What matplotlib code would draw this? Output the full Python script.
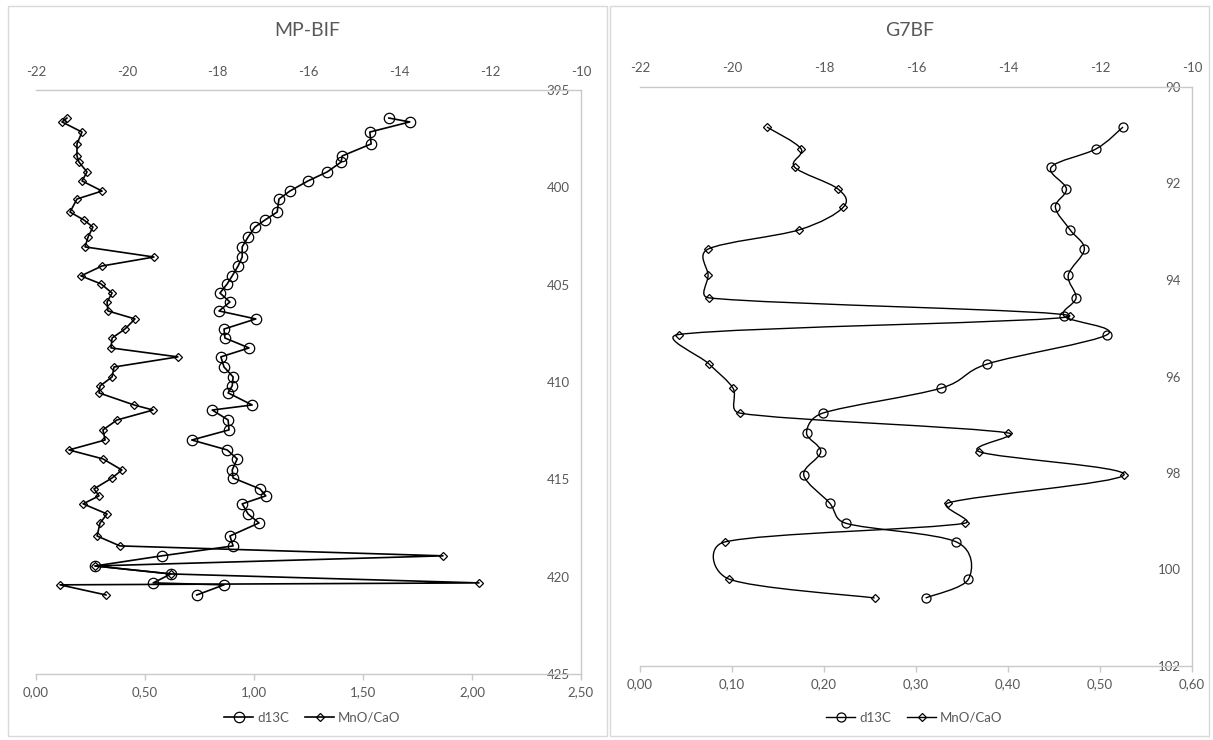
import numpy as np
import matplotlib
matplotlib.use("Agg")
import matplotlib.pyplot as plt
from matplotlib.path import Path
from matplotlib.patches import PathPatch, Rectangle
from matplotlib.lines import Line2D

plt.rcParams['font.family'] = ['Lato', 'DejaVu Sans']

# ---------------- data ----------------
titles = ["MP-BIF", "G7BF"]
series_names = ["d13C", "MnO/CaO"]

mp_depth = [396.44, 396.64, 397.16, 397.77, 398.39, 398.70, 399.21, 399.67, 400.19, 400.60,
            401.27, 401.68, 402.04, 402.55, 403.06, 403.58, 404.04, 404.55, 404.96, 405.43,
            405.89, 406.35, 406.76, 407.28, 407.74, 408.25, 408.71, 409.23, 409.74, 410.20,
            410.56, 411.18, 411.44, 411.95, 412.46, 412.98, 413.49, 413.95, 414.52, 414.93,
            415.49, 415.85, 416.26, 416.78, 417.24, 417.91, 418.42, 418.93, 419.45, 419.86,
            420.32, 420.42, 420.94]
mp_mno = [0.142, 0.119, 0.211, 0.188, 0.188, 0.197, 0.234, 0.211, 0.303, 0.188,
          0.156, 0.220, 0.261, 0.239, 0.225, 0.541, 0.303, 0.206, 0.298, 0.349,
          0.326, 0.330, 0.454, 0.408, 0.349, 0.344, 0.651, 0.358, 0.349, 0.294,
          0.289, 0.450, 0.537, 0.372, 0.307, 0.317, 0.151, 0.307, 0.394, 0.349,
          0.266, 0.289, 0.216, 0.326, 0.294, 0.280, 0.385, 1.867, 0.271, 0.619,
          2.032, 0.110, 0.321]
mp_d13c = [-14.23, -13.77, -14.65, -14.62, -15.26, -15.28, -15.59, -16.01, -16.41, -16.65,
           -16.69, -16.96, -17.18, -17.33, -17.46, -17.46, -17.55, -17.68, -17.79, -17.95,
           -17.73, -17.97, -17.16, -17.86, -17.84, -17.31, -17.93, -17.86, -17.66, -17.68,
           -17.77, -17.24, -18.12, -17.77, -17.75, -18.57, -17.79, -17.57, -17.68, -17.66,
           -17.07, -16.94, -17.46, -17.33, -17.09, -17.73, -17.66, -19.23, -20.70, -19.03,
           -19.42, -17.86, -18.46]

g7_depth = [90.83, 91.28, 91.66, 92.11, 92.49, 92.96, 93.36, 93.90, 94.37, 94.75, 95.13,
            95.74, 96.24, 96.76, 97.17, 97.56, 98.04, 98.62, 99.04, 99.43, 100.20, 100.59]
g7_mno = [0.138, 0.175, 0.168, 0.215, 0.221, 0.173, 0.074, 0.074, 0.075, 0.467, 0.042,
          0.075, 0.101, 0.109, 0.400, 0.369, 0.526, 0.335, 0.353, 0.092, 0.097, 0.255]
g7_d13c = [-11.50, -12.08, -13.06, -12.73, -12.97, -12.65, -12.34, -12.69, -12.52, -12.78, -11.84,
           -14.45, -15.45, -18.03, -18.38, -18.07, -18.44, -17.88, -17.53, -15.12, -14.86, -15.79]

d13c_ticks = [-22, -20, -18, -16, -14, -12, -10]
d13c_labels = ["-22", "-20", "-18", "-16", "-14", "-12", "-10"]
mp_mno_ticks = [0.0, 0.5, 1.0, 1.5, 2.0, 2.5]
mp_mno_labels = ["0,00", "0,50", "1,00", "1,50", "2,00", "2,50"]
g7_mno_ticks = [0.0, 0.1, 0.2, 0.3, 0.4, 0.5, 0.6]
g7_mno_labels = ["0,00", "0,10", "0,20", "0,30", "0,40", "0,50", "0,60"]
mp_depth_ticks = [395, 400, 405, 410, 415, 420, 425]
g7_depth_ticks = [90, 92, 94, 96, 98, 100, 102]

# ---------------- style ----------------
W, H = 1213, 740
TXT = '#595959'
AXC = '#C9C9C9'
BORDER = '#D9D9D9'

fig = plt.figure(figsize=(W / 100, H / 100), dpi=100)
fig.patch.set_facecolor('white')


def fx(px):
    return px / W


def fy(py):
    return 1 - py / H


def excel_smooth_path(ax, x, y):
    """Excel-style smoothed line: Bezier segments whose control handles are
    computed in screen space and limited to half the segment length."""
    disp = ax.transData.transform(np.column_stack([x, y]))
    n = len(disp)
    verts = [disp[0]]
    codes = [Path.MOVETO]
    f = 1.0 / 6.0
    for i in range(n - 1):
        p0 = disp[i - 1] if i > 0 else disp[i]
        p1 = disp[i]
        p2 = disp[i + 1]
        p3 = disp[i + 2] if i + 2 < n else disp[i + 1]
        d12 = np.hypot(*(p2 - p1))
        d02 = np.hypot(*(p2 - p0))
        d13 = np.hypot(*(p3 - p1))
        f0 = f if d02 * f < d12 / 2 else (d12 / (2 * d02) if d02 > 0 else 0)
        f3 = f if d13 * f < d12 / 2 else (d12 / (2 * d13) if d13 > 0 else 0)
        c1 = p1 + (p2 - p0) * f0
        c2 = p2 - (p3 - p1) * f3
        verts += [c1, c2, p2]
        codes += [Path.CURVE4] * 3
    data_verts = ax.transData.inverted().transform(np.array(verts))
    return Path(data_verts, codes)


def panel(box, depth, d13c, mno, mno_ticks, mno_labels, depth_ticks, title,
          smooth, ms_c, ms_d, lw, panel_x0, panel_x1):
    x0, y0, x1, y1 = box
    ax = fig.add_axes([fx(x0), fy(y1), fx(x1) - fx(x0), fy(y0) - fy(y1)])
    ax2 = ax.twiny()
    ax.set_xlim(mno_ticks[0], mno_ticks[-1])
    ax2.set_xlim(d13c_ticks[0], d13c_ticks[-1])
    ax.set_ylim(depth_ticks[-1], depth_ticks[0])
    ax2.set_ylim(depth_ticks[-1], depth_ticks[0])
    ax.patch.set_visible(False)
    ax2.patch.set_visible(False)

    for s in ['left', 'top']:
        ax.spines[s].set_visible(False)
    for s in ['bottom', 'right']:
        ax.spines[s].set_color(AXC)
        ax.spines[s].set_linewidth(1.0)
    for s in ['left', 'bottom', 'right']:
        ax2.spines[s].set_visible(False)
    ax2.spines['top'].set_color(AXC)
    ax2.spines['top'].set_linewidth(1.0)

    ax.set_xticks(mno_ticks)
    ax.set_xticklabels(mno_labels)
    ax.tick_params(axis='x', direction='out', length=4, width=1, color=AXC,
                   labelcolor=TXT, labelsize=9.5, pad=5)
    ax2.set_xticks(d13c_ticks)
    ax2.set_xticklabels(d13c_labels)
    ax2.tick_params(axis='x', length=0, labelcolor=TXT, labelsize=9.5, pad=9)

    ax.set_yticks(depth_ticks)
    ax.set_yticklabels([str(t) for t in depth_ticks])
    ax.tick_params(axis='y', left=False, labelleft=False, right=True, labelright=True,
                   length=0, labelcolor=TXT, labelsize=9.5, pad=-8)
    for t in ax.yaxis.get_major_ticks():
        t.label2.set_horizontalalignment('right')

    # lines
    if smooth:
        ax2.add_patch(PathPatch(excel_smooth_path(ax2, d13c, depth), facecolor='none',
                                edgecolor='black', lw=lw, zorder=3))
        ax.add_patch(PathPatch(excel_smooth_path(ax, mno, depth), facecolor='none',
                               edgecolor='black', lw=lw, zorder=3))
    else:
        ax2.plot(d13c, depth, color='black', lw=lw, zorder=3)
        ax.plot(mno, depth, color='black', lw=lw, zorder=3)
    ax2.plot(d13c, depth, linestyle='none', marker='o', ms=ms_c, mfc='none',
             mec='black', mew=0.9, zorder=4)
    ax.plot(mno, depth, linestyle='none', marker='D', ms=ms_d, mfc='none',
            mec='black', mew=0.9, zorder=4)

    cx = (panel_x0 + panel_x1) / 2
    fig.text(fx(cx), fy(30), title, ha='center', va='center', fontsize=14, color=TXT)

    handles = [Line2D([], [], color='black', lw=lw, marker='o', ms=ms_c, mfc='none',
                      mec='black', mew=0.9),
               Line2D([], [], color='black', lw=lw, marker='D', ms=ms_d, mfc='none',
                      mec='black', mew=0.9)]
    leg = fig.legend(handles, series_names, loc='center', bbox_to_anchor=(fx(cx + 5), fy(718)),
                     ncol=2, frameon=False, fontsize=9.5, handlelength=2.2,
                     handletextpad=0.3, columnspacing=1.2)
    for t in leg.get_texts():
        t.set_color(TXT)

    fig.add_artist(Rectangle((fx(panel_x0), fy(736)), fx(panel_x1) - fx(panel_x0),
                             fy(6) - fy(736), transform=fig.transFigure, fill=False,
                             edgecolor=BORDER, lw=1.0))
    return ax, ax2


panel((36, 90, 581, 674), mp_depth, mp_d13c, mp_mno, mp_mno_ticks, mp_mno_labels,
      mp_depth_ticks, titles[0], False, 7.5, 4.3, 1.2, 8, 607)
panel((640, 87, 1192, 666), g7_depth, g7_d13c, g7_mno, g7_mno_ticks, g7_mno_labels,
      g7_depth_ticks, titles[1], True, 6.5, 3.7, 1.0, 610, 1209)

fig.savefig("out.png", dpi=100, facecolor='white')
